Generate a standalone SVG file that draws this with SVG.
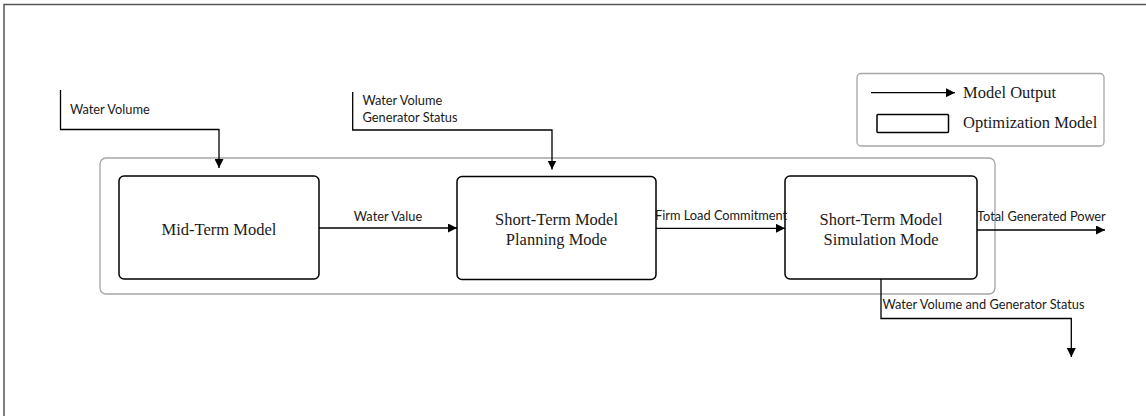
<svg xmlns="http://www.w3.org/2000/svg" width="1146" height="416" viewBox="0 0 1146 416">
  <style>
    .frame { stroke: #555; stroke-width: 1.5; fill: none; }
    .group { fill: none; stroke: #a6a6a6; stroke-width: 1.3; }
    .model { fill: #fff; stroke: #000; stroke-width: 1.5; }
    .wire { fill: none; stroke: #000; stroke-width: 1.3; }
    .lbl { font-family: Lato, "Liberation Sans", sans-serif; font-size: 12.8px; fill: #1a1a1a; }
    .title { font-family: "Liberation Serif", serif; font-size: 16.5px; fill: #1a1a1a; text-anchor: middle; }
    .legend-text { font-family: "Liberation Serif", serif; font-size: 16.5px; fill: #1a1a1a; }
  </style>
  <defs>
    <marker id="head" viewBox="0 0 10 10" refX="10" refY="5" markerWidth="9" markerHeight="9" markerUnits="userSpaceOnUse" orient="auto">
      <path d="M0,0 L10,5 L0,10 z" fill="#000"/>
    </marker>
  </defs>

  <rect width="1146" height="416" fill="#fff"/>
  <!-- page frame: top and left edges only -->
  <path class="frame" d="M4,416 V4.5 H1146"/>

  <!-- container around the three models -->
  <rect class="group" x="100" y="158" width="895" height="136" rx="6"/>

  <!-- legend -->
  <g id="legend">
    <rect class="group" x="857" y="73.5" width="247" height="72.5" rx="4"/>
    <line class="wire" x1="871" y1="92.7" x2="955" y2="92.7" marker-end="url(#head)"/>
    <text class="legend-text" x="963" y="98">Model Output</text>
    <rect class="model" x="877" y="114.5" width="71.5" height="18" rx="1"/>
    <text class="legend-text" x="963" y="128">Optimization Model</text>
  </g>

  <g id="mid-term">
    <rect class="model" x="119" y="176" width="200" height="103" rx="5"/>
    <text class="title" x="219" y="235">Mid-Term Model</text>
  </g>

  <g id="short-term-planning">
    <rect class="model" x="457" y="176.5" width="199" height="103" rx="5"/>
    <text class="title" x="556.5" y="225">Short-Term Model</text>
    <text class="title" x="556.5" y="245">Planning Mode</text>
  </g>

  <g id="short-term-simulation">
    <rect class="model" x="785" y="176" width="192" height="103" rx="5"/>
    <text class="title" x="881" y="225">Short-Term Model</text>
    <text class="title" x="881" y="245">Simulation Mode</text>
  </g>

  <g id="connectors">
    <!-- inputs -->
    <path class="wire" d="M60.5,90 V129.5 H219 V168" marker-end="url(#head)"/>
    <text class="lbl" x="70" y="114">Water Volume</text>

    <path class="wire" d="M352.7,92 V130 H552 V169.5" marker-end="url(#head)"/>
    <text class="lbl" x="362.5" y="105">Water Volume</text>
    <text class="lbl" x="362.5" y="121.5">Generator Status</text>

    <!-- between models -->
    <path class="wire" d="M319,228 H457" marker-end="url(#head)"/>
    <text class="lbl" x="388" y="220.5" text-anchor="middle">Water Value</text>

    <path class="wire" d="M656,228.3 H785" marker-end="url(#head)"/>
    <text class="lbl" x="655" y="220">Firm Load Commitment</text>

    <!-- outputs -->
    <path class="wire" d="M977,230 H1105" marker-end="url(#head)"/>
    <text class="lbl" x="977" y="221">Total Generated Power</text>

    <path class="wire" d="M881,279 V318.5 H1071.3 V357" marker-end="url(#head)"/>
    <text class="lbl" x="882.5" y="309">Water Volume and Generator Status</text>
  </g>
</svg>
